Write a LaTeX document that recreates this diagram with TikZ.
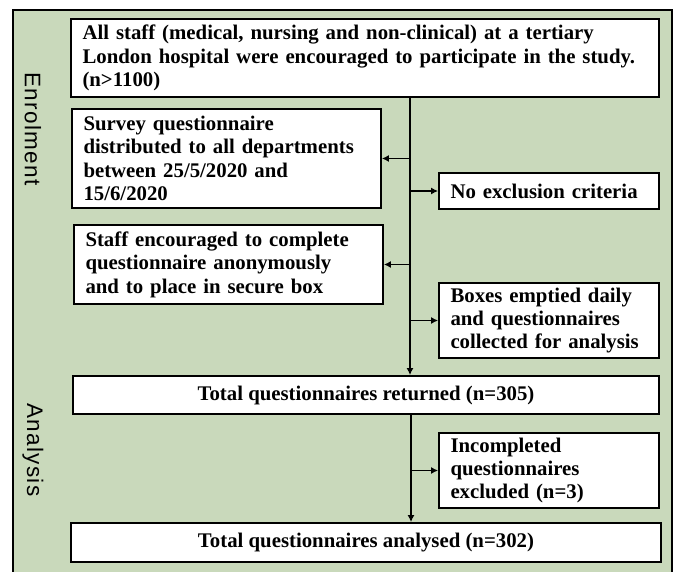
\documentclass[tikz,border=0pt]{standalone}
\usepackage{fontspec}
\setmainfont{Liberation Serif}
\newfontfamily\sidefont[LetterSpace=6]{Liberation Sans}
\usetikzlibrary{arrows.meta}
\definecolor{panelgreen}{RGB}{201,217,187}
\tikzset{
  stagebox/.style={draw, fill=white, line width=1.8pt, inner xsep=11.5pt, inner ysep=2pt,
    font=\fontsize{20.8}{23.4}\selectfont\bfseries, align=left},
  flowline/.style={line width=1.8pt, -{Latex[length=7pt,width=7pt]}},
  sidelabel/.style={rotate=-90, inner sep=0pt, font=\fontsize{22.5}{24}\selectfont\sidefont}
}
\begin{document}
\begin{tikzpicture}[x=1pt, y=-1pt]

\clip (0,0) rectangle (675,572);

% --- Green panel (runs past the bottom edge) ---
\draw[fill=panelgreen, line width=1.8pt] (13,10) rectangle (672,600);

% --- Stage labels ---
\node[sidelabel] (enrolment) at (33,129) {Enrolment};
\node[sidelabel] (analysis) at (33,450) {Analysis};

% --- Enrolment boxes ---
\node[stagebox, minimum width=588pt, minimum height=78pt, text width=565pt] (allstaff) at (365,58)
  {All staff (medical, nursing and non-clinical) at a tertiary\\London hospital were encouraged to participate in the study.\\(n>1100)};

\node[stagebox, minimum width=309pt, minimum height=99pt, text width=286pt] (survey) at (226.5,158.5)
  {Survey questionnaire\\distributed to all departments\\between 25/5/2020 and\\15/6/2020};

\node[stagebox, minimum width=220pt, minimum height=36pt, text width=197pt] (noexcl) at (549,191)
  {No exclusion criteria};

\node[stagebox, minimum width=309pt, minimum height=79pt, text width=286pt] (staff) at (228.5,264.5)
  {Staff encouraged to complete\\questionnaire anonymously\\and to place in secure box};

\node[stagebox, minimum width=220pt, minimum height=75pt, text width=197pt] (emptied) at (549,320.5)
  {Boxes emptied daily\\and questionnaires\\collected for analysis};

% --- Analysis boxes ---
\node[stagebox, align=center, minimum width=586pt, minimum height=38pt] (returned) at (366,395)
  {Total questionnaires returned (n=305)};

\node[stagebox, minimum width=220pt, minimum height=75pt, text width=197pt] (incomplete) at (549,470.5)
  {Incompleted\\questionnaires\\excluded (n=3)};

\node[stagebox, align=center, minimum width=590pt, minimum height=39pt] (analysed) at (366,542.5)
  {Total questionnaires analysed (n=302)};

% --- Connectors ---
\coordinate (trunk) at (410,0);
\coordinate (trunkb) at (411,0);

\draw[flowline] (allstaff.south -| trunk) -- (returned.north -| trunk);
\draw[flowline] (survey.east -| trunk) -- (survey.east);
\draw[flowline] (noexcl.west -| trunk) -- (noexcl.west);
\draw[flowline] (staff.east -| trunk) -- (staff.east);
\draw[flowline] (emptied.west -| trunk) -- (emptied.west);

\draw[flowline] (returned.south -| trunkb) -- (analysed.north -| trunkb);
\draw[flowline] (incomplete.west -| trunkb) -- (incomplete.west);

\end{tikzpicture}
\end{document}
